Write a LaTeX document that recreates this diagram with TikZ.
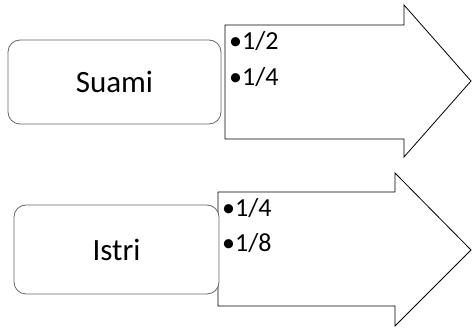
\documentclass[tikz,border=0pt]{standalone}
\usepackage{fontspec}
\setmainfont{Carlito}
\usepackage{tikz}

\tikzset{
  pihak/.style={draw=black!60, line width=0.8pt, rounded corners=12pt, fill=white, inner sep=0pt, font=\fontsize{31}{31}\selectfont},
  bagian/.style={anchor=base west, inner sep=0pt, font=\fontsize{26}{26}\selectfont},
  panah/.style={draw=black, line width=0.8pt, fill=white}
}

\begin{document}
\begin{tikzpicture}[x=1pt, y=-1pt]
      \useasboundingbox (0,0) rectangle (472,328);

      % Big arrows (body, then head)
      \draw[panah] (225,25) -- (404,25) -- (404,5) -- (471,81) -- (404,157) -- (404,139) -- (225,139) -- cycle;
      \draw[panah] (218,192) -- (395,192) -- (395,173) -- (471,250) -- (395,326) -- (395,306) -- (218,306) -- cycle;

      % Rounded boxes
      \node[pihak, minimum width=213pt, minimum height=84pt] (suami) at (114.5,82) {Suami};
      \node[pihak, minimum width=205pt, minimum height=89pt] (istri) at (116.5,249.5) {Istri};

      % Shares inside the arrows
      \foreach \y/\name/\teks in {50/sa/1\slash 2, 85.5/sb/1\slash 4}
      {
        \node[bagian] (\name) at (229,\y) {•\teks};
      }
      \foreach \y/\name/\teks in {217/ia/1\slash 4, 252/ib/1\slash 8}
      {
        \node[bagian] (\name) at (222,\y) {•\teks};
      }
    \end{tikzpicture}
\end{document}
